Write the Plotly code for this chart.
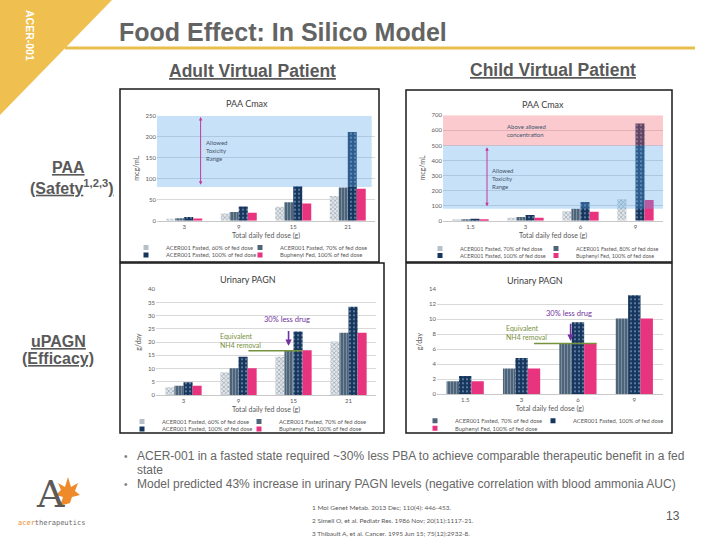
import plotly.graph_objects as go

W, H = 720, 540
CFONT = "Lato, 'Open Sans', sans-serif"
SFONT = "'Liberation Sans Narrow', 'Liberation Sans', Arial, sans-serif"
AFONT = "'Liberation Sans', Arial, sans-serif"
GRAY = '#595959'

# ---------------- data ----------------
adult_doses = ["3", "9", "15", "21"]
child_doses = ["1.5", "3", "6", "9"]

adult_paa_60 = [3, 17, 33, 59]
adult_paa_70 = [6, 21, 44, 79]
adult_paa_100 = [9, 34, 82, 211]
adult_paa_buph = [5, 19, 41, 76]

child_paa_70 = [8, 20, 62, 142]
child_paa_80 = [9, 24, 80, None]
child_paa_100 = [13, 38, 124, 645]
child_paa_buph = [6, 20, 60, 137]

adult_pagn_60 = [2.9, 8.6, 14.5, 20.2]
adult_pagn_70 = [3.5, 10.1, 16.9, 23.6]
adult_pagn_100 = [4.8, 14.5, 24.0, 33.4]
adult_pagn_buph = [3.5, 10.1, 16.9, 23.6]

child_pagn_70 = [1.7, 3.4, 6.8, 10.1]
child_pagn_100 = [2.4, 4.8, 9.6, 13.2]
child_pagn_buph = [1.7, 3.4, 6.8, 10.1]

lbl60 = "ACER001 Fasted, 60% of fed dose"
lbl70 = "ACER001 Fasted, 70% of fed dose"
lbl80 = "ACER001 Fasted, 80% of fed dose"
lbl100 = "ACER001 Fasted, 100% of fed dose"
lblbup = "Buphenyl Fed, 100% of fed dose"


def fx(p):
    return p / W


def fy(p):
    return 1 - p / H


STYLE = {
    'light': dict(color='#E3E7EB', line=dict(width=0),
                  pattern=dict(shape='x', bgcolor='#E3E7EB', fgcolor='#98A4B0',
                               size=3, solidity=0.4)),
    'mid': dict(color='#4E6479', line=dict(width=0),
                pattern=dict(shape='|', bgcolor='#4E6479', fgcolor='#8092A5',
                             size=3, solidity=0.3)),
    'dark': dict(color='#17365D', line=dict(width=0),
                 pattern=dict(shape='.', bgcolor='#17365D', fgcolor='#6A88AD',
                              size=4, solidity=0.22)),
    'pink': dict(color='#E8337F', line=dict(width=0)),
}
SWATCH = {'light': '#B7C0C9', 'mid': '#4E6479', 'dark': '#17365D', 'pink': '#E8337F'}

fig = go.Figure()
layout_legends = {}
legend_counter = [0]


def add_chart(xa, ya, cats, series, legend_slots, fsize):
    for (label, vals, st), (lx, ly) in zip(series, legend_slots):
        fig.add_trace(go.Bar(x=cats, y=vals, name=label, marker=STYLE[st],
                             xaxis=xa, yaxis=ya, showlegend=False,
                             hoverinfo='x+y+name'))
        legend_counter[0] += 1
        n = legend_counter[0]
        lname = 'legend' if n == 1 else 'legend%d' % n
        fig.add_trace(go.Scatter(x=[None], y=[None], mode='markers', name=label,
                                 marker=dict(symbol='square', size=5, color=SWATCH[st]),
                                 xaxis=xa, yaxis=ya, legend=lname, showlegend=True))
        layout_legends[lname] = dict(
            x=fx(lx), y=fy(ly), xanchor='left', yanchor='middle',
            orientation='h', bgcolor='rgba(0,0,0,0)', borderwidth=0,
            font=dict(family=CFONT, size=fsize, color=GRAY), itemwidth=30)


add_chart('x', 'y', adult_doses,
          [(lbl60, adult_paa_60, 'light'), (lbl70, adult_paa_70, 'mid'),
           (lbl100, adult_paa_100, 'dark'), (lblbup, adult_paa_buph, 'pink')],
          [(126, 247.5), (240, 247.5), (126, 255), (240, 255)], 5.8)
add_chart('x2', 'y2', child_doses,
          [(lbl70, child_paa_70, 'light'), (lbl80, child_paa_80, 'mid'),
           (lbl100, child_paa_100, 'dark'), (lblbup, child_paa_buph, 'pink')],
          [(420, 248.5), (536, 248.5), (420, 255.5), (536, 255.5)], 5.5)
add_chart('x3', 'y3', adult_doses,
          [(lbl60, adult_pagn_60, 'light'), (lbl70, adult_pagn_70, 'mid'),
           (lbl100, adult_pagn_100, 'dark'), (lblbup, adult_pagn_buph, 'pink')],
          [(122, 421.5), (239, 421.5), (122, 429), (239, 429)], 5.8)
add_chart('x4', 'y4', child_doses,
          [(lbl70, child_pagn_70, 'mid'), (lbl100, child_pagn_100, 'dark'),
           (lblbup, child_pagn_buph, 'pink')],
          [(415, 420.7), (533, 420.7), (415, 428.3)], 5.8)


def xax(x0, x1, anchor):
    return dict(domain=[fx(x0), fx(x1)], anchor=anchor, type='category',
                showgrid=False, showline=True, linecolor='#C8C8C8', linewidth=0.8,
                ticks='', tickfont=dict(family=CFONT, size=6, color=GRAY),
                title=dict(text='Total daily fed dose (g)', standoff=4,
                           font=dict(family=CFONT, size=7, color=GRAY)),
                automargin=False, zeroline=False, fixedrange=True)


def yax(ytop, ybot, anchor, rng, dt, title):
    return dict(domain=[fy(ybot), fy(ytop)], anchor=anchor, range=rng, dtick=dt,
                showgrid=True, gridcolor='#D9D9D9', gridwidth=0.6,
                showline=False, zeroline=False, ticks='',
                tickfont=dict(family=CFONT, size=6, color=GRAY),
                title=dict(text=title, standoff=5,
                           font=dict(family=CFONT, size=7, color=GRAY)),
                automargin=False, fixedrange=True)


layout = dict(
    width=W, height=H, autosize=False, template='none',
    margin=dict(l=0, r=0, t=0, b=0), paper_bgcolor='white', plot_bgcolor='white',
    barmode='group', bargap=0.34, bargroupgap=0,
    xaxis=xax(157, 375, 'y'),
    yaxis=yax(115.7, 220.7, 'x', [0, 250], 50, 'mcg/mL'),
    xaxis2=xax(443, 663, 'y2'),
    yaxis2=yax(115.3, 220.7, 'x2', [0, 700], 100, 'mcg/mL'),
    xaxis3=xax(156, 376, 'y3'),
    yaxis3=yax(289.3, 395, 'x3', [0, 40], 5, 'g/day'),
    xaxis4=xax(437, 662.5, 'y4'),
    yaxis4=yax(289.3, 394, 'x4', [0, 14], 2, 'g/day'),
)
layout.update(layout_legends)
fig.update_layout(**layout)

shapes = []
ann = []

# ---- bands (semi-transparent, above bars) ----
shapes.append(dict(type='rect', xref='x domain', yref='y', x0=0, x1=0.985, y0=80, y1=250,
                   fillcolor='rgba(90,170,235,0.34)', line=dict(width=0), layer='above'))
shapes.append(dict(type='rect', xref='x2 domain', yref='y2', x0=0, x1=1, y0=80, y1=500,
                   fillcolor='rgba(90,170,235,0.34)', line=dict(width=0), layer='above'))
shapes.append(dict(type='rect', xref='x2 domain', yref='y2', x0=0, x1=1, y0=500, y1=700,
                   fillcolor='rgba(240,100,115,0.34)', line=dict(width=0), layer='above'))

# ---- arrows in PAA charts ----
ARW = '#C2399B'
ann.append(dict(x=0.3, y=247, ax=0.3, ay=82, xref='x', yref='y', axref='x', ayref='y',
                text='', showarrow=True, arrowhead=2, arrowside='end+start',
                arrowsize=0.7, arrowwidth=1, arrowcolor=ARW))
ann.append(dict(x=0.36, y=166, xref='x', yref='y', xanchor='left', yanchor='middle', align='left',
                text='Allowed<br>Toxicity<br>Range', showarrow=False,
                font=dict(family=CFONT, size=6, color='#44546A')))
ann.append(dict(x=0.3, y=488, ax=0.3, ay=86, xref='x2', yref='y2', axref='x2', ayref='y2',
                text='', showarrow=True, arrowhead=2, arrowside='end+start',
                arrowsize=0.7, arrowwidth=1, arrowcolor=ARW))
ann.append(dict(x=0.36, y=280, xref='x2', yref='y2', xanchor='left', yanchor='middle', align='left',
                text='Allowed<br>Toxicity<br>Range', showarrow=False,
                font=dict(family=CFONT, size=6, color='#44546A')))
ann.append(dict(x=0.62, y=600, xref='x2', yref='y2', xanchor='left', yanchor='middle', align='left',
                text='Above allowed<br>concentration', showarrow=False,
                font=dict(family=CFONT, size=6, color='#44546A')))

# ---- uPAGN annotations ----
PURPLE = '#7030A0'
OLIVE = '#76923C'
ann.append(dict(x=1.91, y=18.6, ax=1.91, ay=24.8, xref='x3', yref='y3', axref='x3', ayref='y3',
                text='', showarrow=True, arrowhead=2, arrowsize=0.8, arrowwidth=1.6,
                arrowcolor=PURPLE))
ann.append(dict(x=1.89, y=28.4, xref='x3', yref='y3', text='30% less drug', showarrow=False,
                font=dict(family=CFONT, size=7.5, color=PURPLE)))
ann.append(dict(x=0.63, y=20.8, xref='x3', yref='y3', xanchor='left', yanchor='middle', align='left',
                text='Equivalent<br>NH4 removal', showarrow=False,
                font=dict(family=CFONT, size=7, color=OLIVE)))
shapes.append(dict(type='line', xref='x3', yref='y3', x0=1.18, x1=2.15, y0=16.75, y1=16.75,
                   line=dict(color=OLIVE, width=1.4), layer='above'))

ann.append(dict(x=1.87, y=7.1, ax=1.87, ay=9.6, xref='x4', yref='y4', axref='x4', ayref='y4',
                text='', showarrow=True, arrowhead=2, arrowsize=0.8, arrowwidth=1.6,
                arrowcolor=PURPLE))
ann.append(dict(x=1.84, y=10.7, xref='x4', yref='y4', text='30% less drug', showarrow=False,
                font=dict(family=CFONT, size=7.5, color=PURPLE)))
ann.append(dict(x=0.69, y=8.2, xref='x4', yref='y4', xanchor='left', yanchor='middle', align='left',
                text='Equivalent<br>NH4 removal', showarrow=False,
                font=dict(family=CFONT, size=7, color=OLIVE)))
shapes.append(dict(type='line', xref='x4', yref='y4', x0=1.22, x1=2.33, y0=6.75, y1=6.75,
                   line=dict(color=OLIVE, width=1.4), layer='above'))

# ---- chart titles ----
for txt, cx, cy in [('PAA Cmax', 247, 103.5), ('PAA Cmax', 543, 104.5),
                    ('Urinary PAGN', 248, 279), ('Urinary PAGN', 535, 280)]:
    ann.append(dict(x=fx(cx), y=fy(cy), xref='paper', yref='paper', text=txt, showarrow=False,
                    xanchor='center', yanchor='middle',
                    font=dict(family=CFONT, size=9, color='#404040')))

# ---- chart frames ----
for x0, y0, x1, y1 in [(120, 89, 379, 262), (120, 263, 384, 433),
                       (406, 90, 672, 262), (406, 263, 672, 433)]:
    shapes.append(dict(type='rect', xref='paper', yref='paper', x0=fx(x0), x1=fx(x1),
                       y0=fy(y1), y1=fy(y0), line=dict(color='#1A1A1A', width=1.5),
                       fillcolor='rgba(0,0,0,0)', layer='above'))

# ---- slide decorations ----
shapes.append(dict(type='path', xref='paper', yref='paper',
                   path='M 0,1 L %f,1 L 0,%f Z' % (fx(112), fy(115)),
                   fillcolor='#EFC04F', line=dict(width=0), layer='below'))
shapes.append(dict(type='line', xref='paper', yref='paper', x0=fx(65), x1=fx(695),
                   y0=fy(48), y1=fy(48), line=dict(color='#E8BE4C', width=3)))

ann.append(dict(x=fx(30), y=fy(35), xref='paper', yref='paper', text='<b>ACER-001</b>',
                textangle=90, showarrow=False, xanchor='center', yanchor='middle',
                font=dict(family=AFONT, size=10.5, color='white')))
ann.append(dict(x=fx(117), y=fy(32), xref='paper', yref='paper',
                text='<b>Food Effect: In Silico Model</b>', showarrow=False,
                xanchor='left', yanchor='middle',
                font=dict(family=SFONT, size=25, color='#636363')))
ann.append(dict(x=fx(253), y=fy(71), xref='paper', yref='paper',
                text='<b><u>Adult Virtual Patient</u></b>', showarrow=False,
                xanchor='center', yanchor='middle', font=dict(family=SFONT, size=17.5, color=GRAY)))
ann.append(dict(x=fx(553), y=fy(70), xref='paper', yref='paper',
                text='<b><u>Child Virtual Patient</u></b>', showarrow=False,
                xanchor='center', yanchor='middle', font=dict(family=SFONT, size=17.5, color=GRAY)))
ann.append(dict(x=fx(68), y=fy(167), xref='paper', yref='paper',
                text='<b><u>PAA</u></b>', showarrow=False,
                xanchor='center', yanchor='middle', font=dict(family=SFONT, size=16, color=GRAY)))
ann.append(dict(x=fx(72), y=fy(187), xref='paper', yref='paper',
                text='<b><u>(Safety</u><sup>1,2,3</sup><u>)</u></b>', showarrow=False,
                xanchor='center', yanchor='middle', font=dict(family=SFONT, size=16, color=GRAY)))
ann.append(dict(x=fx(58), y=fy(341), xref='paper', yref='paper',
                text='<b><u>uPAGN</u></b>', showarrow=False,
                xanchor='center', yanchor='middle', font=dict(family=SFONT, size=16, color=GRAY)))
ann.append(dict(x=fx(58), y=fy(358), xref='paper', yref='paper',
                text='<b><u>(Efficacy)</u></b>', showarrow=False,
                xanchor='center', yanchor='middle', font=dict(family=SFONT, size=16, color=GRAY)))

# bullets
for by in (456, 484):
    ann.append(dict(x=fx(122), y=fy(by), xref='paper', yref='paper', text='•', showarrow=False,
                    xanchor='left', yanchor='middle', font=dict(family=AFONT, size=10, color='#7F7F7F')))
ann.append(dict(x=fx(135), y=fy(456), xref='paper', yref='paper',
                text='ACER-001 in a fasted state required ~30% less PBA to achieve comparable therapeutic benefit in a fed',
                showarrow=False, xanchor='left', yanchor='middle',
                font=dict(family=AFONT, size=12, color='#666666')))
ann.append(dict(x=fx(135), y=fy(470), xref='paper', yref='paper', text='state',
                showarrow=False, xanchor='left', yanchor='middle',
                font=dict(family=AFONT, size=12, color='#666666')))
ann.append(dict(x=fx(135), y=fy(484), xref='paper', yref='paper',
                text='Model predicted 43% increase in urinary PAGN levels (negative correlation with blood ammonia AUC)',
                showarrow=False, xanchor='left', yanchor='middle',
                font=dict(family=AFONT, size=12, color='#666666')))

refs = ['1 Mol Genet Metab. 2013 Dec; 110(4): 446-453.',
        '2 Simell O, et al. Pediatr Res. 1986 Nov; 20(11):1117-21.',
        '3 Thibault A, et al. Cancer. 1995 Jun 15; 75(12):2932-8.']
for i, r in enumerate(refs):
    ann.append(dict(x=fx(310), y=fy(507 + 13 * i), xref='paper', yref='paper', text=r,
                    showarrow=False, xanchor='left', yanchor='middle',
                    font=dict(family=CFONT, size=6.5, color=GRAY)))
ann.append(dict(x=fx(673), y=fy(516), xref='paper', yref='paper', text='13', showarrow=False,
                xanchor='center', yanchor='middle', font=dict(family=AFONT, size=12, color=GRAY)))

# logo
ann.append(dict(x=fx(50), y=fy(494), xref='paper', yref='paper', text='A', showarrow=False,
                xanchor='center', yanchor='middle',
                font=dict(family="'DejaVu Serif', serif", size=38, color='#5A5A5A')))
leaf = [(60, 506), (63, 497), (56, 495), (61, 490), (58, 483), (65, 487), (68, 477),
        (71, 487), (78, 483), (75, 491), (80, 495), (72, 497), (70, 503)]
path = 'M ' + ' L '.join('%f,%f' % (fx(a), fy(b)) for a, b in leaf) + ' Z'
shapes.append(dict(type='path', xref='paper', yref='paper', path=path,
                   fillcolor='#EE8A2A', line=dict(width=0), layer='above'))
ann.append(dict(x=fx(51), y=fy(523), xref='paper', yref='paper',
                text="<span style='color:#EE8A2A'>acer</span>therapeutics", showarrow=False,
                xanchor='center', yanchor='middle',
                font=dict(family="'DejaVu Sans Mono', monospace", size=7, color='#6A6A6A')))

fig.update_layout(shapes=shapes, annotations=ann)
fig.write_html('out.html', config={'displayModeBar': False},
               post_script="document.body.style.margin='0px';document.body.style.padding='0px';")
